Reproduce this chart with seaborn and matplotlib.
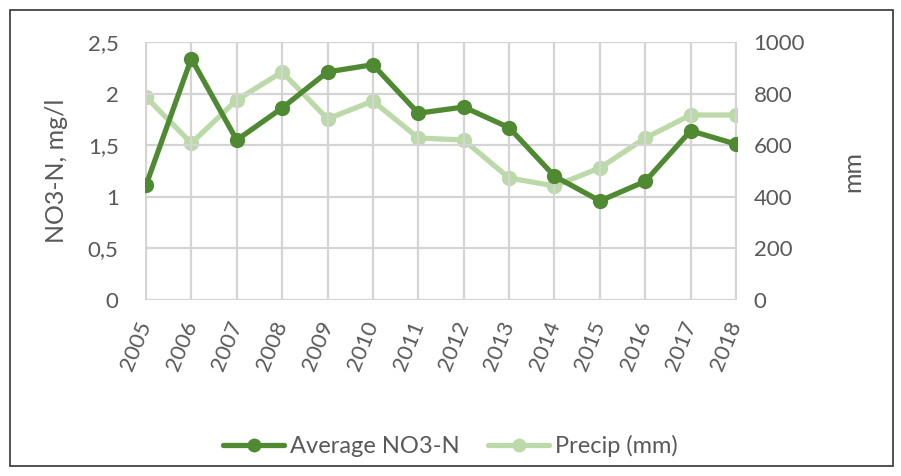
import matplotlib
matplotlib.use("Agg")
import matplotlib.pyplot as plt
import seaborn as sns
import pandas as pd
from matplotlib.patches import Rectangle
from matplotlib.ticker import FuncFormatter

years = [2005, 2006, 2007, 2008, 2009, 2010, 2011, 2012, 2013, 2014, 2015, 2016, 2017, 2018]
no3_n = [1.11, 2.34, 1.55, 1.86, 2.21, 2.28, 1.81, 1.87, 1.67, 1.20, 0.96, 1.15, 1.64, 1.51]
precip_mm = [787, 608, 775, 884, 702, 771, 628, 620, 473, 442, 512, 628, 717, 717]
left_ticks = [0, 0.5, 1.0, 1.5, 2.0, 2.5]
right_ticks = [0, 200, 400, 600, 800, 1000]

sns.set_theme(style="white")
plt.rcParams["font.family"] = ["Lato", "DejaVu Sans"]

dark = "#4f8a33"
light = "#bcd9a9"
text_col = "#595959"
grid_col = "#d4d4d4"

df = pd.DataFrame({"year": [str(y) for y in years], "no3": no3_n, "precip": precip_mm})

fig = plt.figure(figsize=(9.01, 4.76), dpi=100)
ax = fig.add_axes([145 / 901, 1 - 300 / 476, (737 - 145) / 901, (300 - 42) / 476])
ax2 = ax.twinx()

sns.lineplot(data=df, x="year", y="precip", ax=ax2, color=light, marker="o",
             markersize=11, linewidth=3.8, markeredgewidth=0, sort=False)
sns.lineplot(data=df, x="year", y="no3", ax=ax, color=dark, marker="o",
             markersize=11, linewidth=3.8, markeredgewidth=0, sort=False)

ax.set_zorder(ax2.get_zorder() + 1)
ax.patch.set_visible(False)

ax.set_ylim(0, 2.5)
ax2.set_ylim(0, 1000)
ax.set_xlim(-0.02, len(years) - 1 + 0.02)
ax.set_yticks(left_ticks)
ax2.set_yticks(right_ticks)
ax.yaxis.set_major_formatter(FuncFormatter(lambda v, p: f"{v:g}".replace(".", ",")))

# gridlines: horizontal at every value tick, vertical at every year
for v in left_ticks:
    ax.axhline(v, color=grid_col, linewidth=1.6, zorder=0)
for i in range(len(years)):
    ax.axvline(i, color=grid_col, linewidth=1.6, zorder=0)
ax.grid(False)
ax2.grid(False)

for a in (ax, ax2):
    for s in a.spines.values():
        s.set_visible(False)
    a.tick_params(length=0, labelsize=16, colors=text_col)

ax.tick_params(axis="y", pad=19)
ax2.tick_params(axis="y", pad=12)
ax.tick_params(axis="x", pad=16)
for lbl in ax.get_xticklabels():
    lbl.set_rotation(68)
    lbl.set_ha("right")
    lbl.set_rotation_mode("anchor")
    lbl.set_va("center")

ax.set_xlabel("")
ax.set_ylabel("NO3-N, mg/l", fontsize=18, color=text_col, labelpad=14)
ax2.set_ylabel("mm", fontsize=18, color=text_col, labelpad=26)

handles = [
    plt.Line2D([], [], color=dark, marker="o", markersize=10, linewidth=3.8, markeredgewidth=0),
    plt.Line2D([], [], color=light, marker="o", markersize=10, linewidth=3.8, markeredgewidth=0),
]
fig.legend(handles, ["Average NO3-N", "Precip (mm)"], loc="center", bbox_to_anchor=(0.5, 1 - 446 / 476),
           ncol=2, frameon=False, fontsize=17, labelcolor=text_col, handlelength=2.6,
           columnspacing=1.2, handletextpad=0.25)

fig.patches.append(Rectangle((10 / 901, 10 / 476), 883 / 901, 456 / 476, transform=fig.transFigure,
                             fill=False, edgecolor="#333333", linewidth=1.2))

fig.savefig("out.png", dpi=100, facecolor="white")
